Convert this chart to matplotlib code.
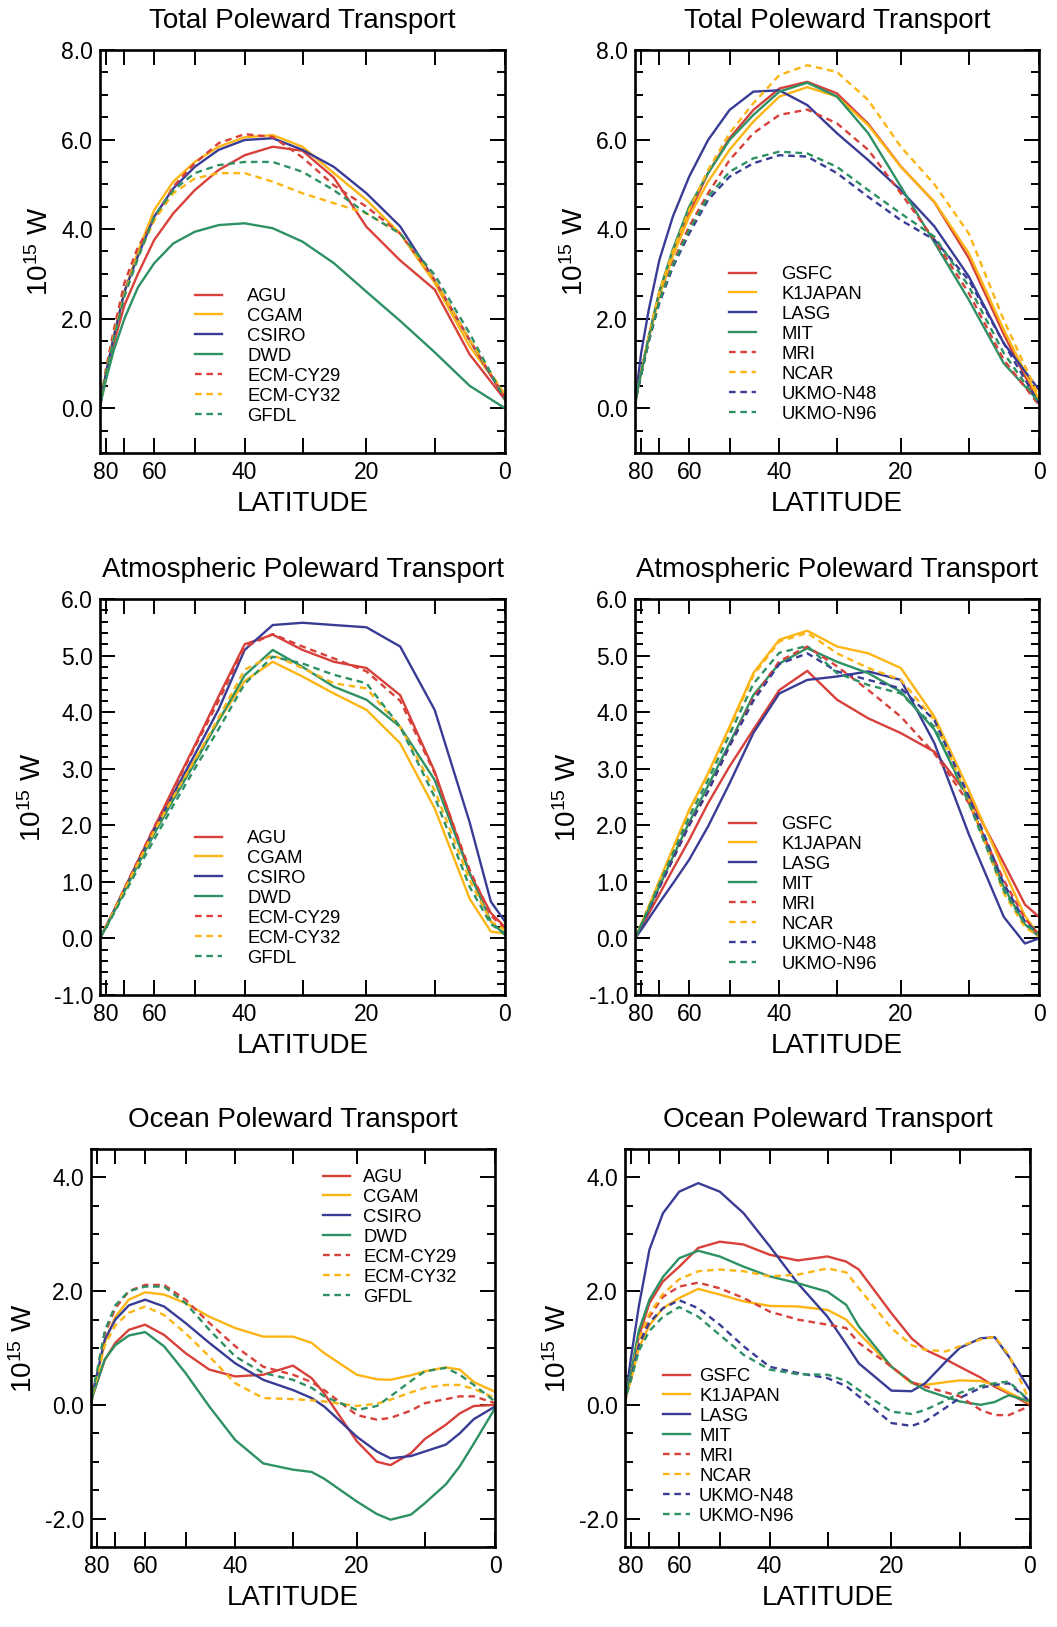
import numpy as np
import matplotlib
matplotlib.use('Agg')
import matplotlib.pyplot as plt
from matplotlib.ticker import MultipleLocator, FormatStrFormatter

plt.rcParams['font.family'] = ['Liberation Sans', 'DejaVu Sans']
plt.rcParams['mathtext.default'] = 'regular'
plt.rcParams['axes.unicode_minus'] = False

# latitude grids (degrees)
lat_tot = [90, 85, 80, 75, 70, 65, 60, 55, 50, 45, 40, 35, 30, 25, 20, 15, 10, 5, 0]
lat_atm = [90, 85, 80, 75, 70, 65, 60, 55, 50, 45, 40, 35, 30, 25, 20, 15, 10, 5, 2, 0]
lat_ocn = [90, 85, 80, 75, 70, 65, 60, 55, 50, 45, 40, 35, 30, 27, 25, 20, 17, 15, 12, 10, 7, 5, 3, 0]

names_left = ['AGU', 'CGAM', 'CSIRO', 'DWD', 'ECM-CY29', 'ECM-CY32', 'GFDL']
names_right = ['GSFC', 'K1JAPAN', 'LASG', 'MIT', 'MRI', 'NCAR', 'UKMO-N48', 'UKMO-N96']

# total transport, 10^15 W
total_left = {
    'AGU':      [0, 0.25, 0.75, 1.45, 2.3, 3.0, 3.76, 4.35, 4.87, 5.32, 5.65, 5.84, 5.75, 5.15, 4.05, 3.3, 2.65, 1.2, 0.19],
    'CGAM':     [0, 0.25, 0.8, 1.6, 2.6, 3.5, 4.43, 5.06, 5.5, 5.84, 6.05, 6.1, 5.84, 5.25, 4.65, 3.9, 2.8, 1.38, 0.3],
    'CSIRO':    [0, 0.25, 0.8, 1.6, 2.6, 3.4, 4.28, 4.91, 5.39, 5.77, 5.99, 6.03, 5.77, 5.39, 4.8, 4.06, 2.86, 1.52, 0.22],
    'DWD':      [0, 0.2, 0.65, 1.3, 2.0, 2.7, 3.24, 3.68, 3.94, 4.09, 4.13, 4.02, 3.72, 3.24, 2.6, 1.95, 1.25, 0.5, 0.0],
    'ECM-CY29': [0, 0.3, 0.9, 1.75, 2.8, 3.6, 4.2, 4.95, 5.47, 5.92, 6.12, 6.06, 5.6, 4.98, 4.5, 3.9, 2.86, 1.52, 0.22],
    'ECM-CY32': [0, 0.25, 0.8, 1.6, 2.55, 3.4, 4.2, 4.8, 5.13, 5.25, 5.25, 5.06, 4.8, 4.58, 4.35, 3.9, 2.86, 1.52, 0.3],
    'GFDL':     [0, 0.25, 0.8, 1.55, 2.5, 3.35, 4.28, 4.87, 5.25, 5.43, 5.5, 5.5, 5.28, 4.87, 4.35, 3.9, 2.98, 1.67, 0.19],
}
total_right = {
    'GSFC':     [0, 0.3, 0.8, 1.6, 2.6, 3.5, 4.35, 5.25, 6.03, 6.66, 7.14, 7.29, 7.03, 6.35, 5.4, 4.6, 3.35, 1.65, 0.1],
    'K1JAPAN':  [0, 0.3, 0.8, 1.55, 2.5, 3.4, 4.28, 5.06, 5.77, 6.4, 6.96, 7.17, 6.96, 6.32, 5.39, 4.61, 3.46, 1.75, 0.19],
    'LASG':     [0, 0.4, 1.23, 2.2, 3.31, 4.28, 5.17, 5.99, 6.66, 7.07, 7.1, 6.77, 6.14, 5.54, 4.87, 4.06, 2.94, 1.45, 0.41],
    'MIT':      [0, 0.3, 0.8, 1.6, 2.6, 3.55, 4.5, 5.25, 5.99, 6.55, 7.07, 7.27, 6.96, 6.14, 4.95, 3.7, 2.42, 1.0, 0.15],
    'MRI':      [0, 0.28, 0.75, 1.5, 2.4, 3.25, 4.06, 4.8, 5.54, 6.14, 6.55, 6.67, 6.36, 5.77, 4.8, 3.76, 2.57, 1.08, 0.07],
    'NCAR':     [0, 0.3, 0.8, 1.6, 2.6, 3.5, 4.43, 5.32, 6.14, 6.81, 7.44, 7.66, 7.51, 6.88, 5.84, 5.0, 3.9, 1.97, 0.26],
    'UKMO-N48': [0, 0.28, 0.75, 1.5, 2.35, 3.15, 3.9, 4.65, 5.17, 5.47, 5.65, 5.62, 5.25, 4.72, 4.2, 3.76, 2.86, 1.45, 0.11],
    'UKMO-N96': [0, 0.28, 0.75, 1.5, 2.4, 3.2, 3.98, 4.72, 5.28, 5.58, 5.73, 5.69, 5.39, 4.87, 4.35, 3.83, 2.72, 1.23, 0.11],
}

# atmospheric transport
atm_left = {
    'AGU':      [0, 0.06, 0.22, 0.49, 0.88, 1.37, 1.96, 2.65, 3.41, 4.28, 5.2, 5.37, 5.1, 4.89, 4.78, 4.3, 2.95, 1.15, 0.45, 0.2],
    'CGAM':     [0, 0.06, 0.21, 0.48, 0.86, 1.33, 1.9, 2.5, 3.15, 3.85, 4.55, 4.89, 4.63, 4.33, 4.04, 3.45, 2.3, 0.7, 0.12, 0.09],
    'CSIRO':    [0, 0.06, 0.21, 0.48, 0.86, 1.34, 1.92, 2.55, 3.25, 4.05, 5.1, 5.54, 5.58, 5.54, 5.5, 5.16, 4.04, 2.05, 0.65, 0.3],
    'DWD':      [0, 0.06, 0.2, 0.46, 0.83, 1.3, 1.85, 2.45, 3.1, 3.85, 4.65, 5.1, 4.8, 4.45, 4.22, 3.74, 2.8, 1.15, 0.3, 0.06],
    'ECM-CY29': [0, 0.06, 0.22, 0.49, 0.89, 1.38, 1.97, 2.62, 3.38, 4.2, 5.15, 5.38, 5.16, 4.95, 4.72, 4.2, 2.92, 1.21, 0.4, 0.18],
    'ECM-CY32': [0, 0.06, 0.21, 0.48, 0.86, 1.33, 1.9, 2.5, 3.15, 3.9, 4.75, 5.01, 4.78, 4.51, 4.42, 3.74, 2.62, 1.03, 0.3, 0.15],
    'GFDL':     [0, 0.05, 0.19, 0.44, 0.79, 1.23, 1.75, 2.35, 3.0, 3.7, 4.5, 4.98, 4.86, 4.66, 4.51, 3.74, 2.5, 0.91, 0.25, 0.09],
}
atm_right = {
    'GSFC':     [0, 0.05, 0.19, 0.44, 0.78, 1.22, 1.74, 2.39, 3.04, 3.69, 4.39, 4.73, 4.22, 3.89, 3.63, 3.3, 2.51, 1.33, 0.6, 0.38],
    'K1JAPAN':  [0, 0.07, 0.25, 0.57, 1.02, 1.59, 2.27, 2.92, 3.74, 4.69, 5.28, 5.44, 5.16, 5.04, 4.78, 3.92, 2.62, 1.21, 0.4, 0.06],
    'LASG':     [0, 0.04, 0.15, 0.35, 0.63, 0.97, 1.39, 1.98, 2.74, 3.63, 4.33, 4.57, 4.63, 4.72, 4.57, 3.45, 1.84, 0.38, -0.09, 0.0],
    'MIT':      [0, 0.06, 0.23, 0.51, 0.92, 1.44, 2.05, 2.7, 3.45, 4.3, 4.86, 5.13, 4.89, 4.69, 4.36, 3.69, 2.45, 0.91, 0.25, 0.03],
    'MRI':      [0, 0.06, 0.22, 0.5, 0.9, 1.4, 2.0, 2.6, 3.4, 4.25, 4.9, 5.16, 4.81, 4.39, 3.92, 3.27, 2.39, 1.03, 0.35, 0.06],
    'NCAR':     [0, 0.07, 0.25, 0.56, 1.01, 1.58, 2.25, 2.9, 3.7, 4.65, 5.25, 5.4, 5.04, 4.78, 4.57, 3.86, 2.45, 0.8, 0.2, 0.03],
    'UKMO-N48': [0, 0.06, 0.22, 0.5, 0.9, 1.4, 2.0, 2.6, 3.4, 4.2, 4.85, 5.04, 4.72, 4.57, 4.42, 3.86, 2.51, 0.97, 0.3, 0.09],
    'UKMO-N96': [0, 0.07, 0.24, 0.54, 0.97, 1.5, 2.15, 2.8, 3.6, 4.5, 5.05, 5.17, 4.69, 4.48, 4.33, 3.74, 2.39, 0.85, 0.25, 0.09],
}

# ocean transport
ocn_left = {
    'AGU':      [0, 0.15, 0.4, 0.79, 1.09, 1.32, 1.41, 1.23, 0.91, 0.62, 0.5, 0.53, 0.69, 0.47, 0.2, -0.64, -1.0, -1.06, -0.85, -0.6, -0.35, -0.15, -0.02, 0.0],
    'CGAM':     [0, 0.2, 0.5, 1.1, 1.55, 1.85, 1.98, 1.94, 1.79, 1.55, 1.35, 1.2, 1.2, 1.09, 0.91, 0.53, 0.45, 0.44, 0.52, 0.59, 0.66, 0.62, 0.4, 0.23],
    'CSIRO':    [0, 0.2, 0.55, 1.15, 1.5, 1.75, 1.85, 1.73, 1.44, 1.09, 0.73, 0.44, 0.26, 0.12, -0.03, -0.56, -0.82, -0.94, -0.9, -0.82, -0.7, -0.5, -0.25, -0.03],
    'DWD':      [0, 0.15, 0.4, 0.8, 1.05, 1.22, 1.28, 1.03, 0.56, -0.03, -0.62, -1.03, -1.14, -1.18, -1.3, -1.7, -1.92, -2.02, -1.93, -1.73, -1.4, -1.08, -0.68, -0.06],
    'ECM-CY29': [0, 0.2, 0.55, 1.25, 1.7, 2.0, 2.11, 2.11, 1.85, 1.44, 1.03, 0.67, 0.53, 0.4, 0.26, -0.18, -0.26, -0.23, -0.1, 0.03, 0.1, 0.15, 0.15, 0.03],
    'ECM-CY32': [0, 0.18, 0.5, 1.05, 1.4, 1.62, 1.73, 1.58, 1.26, 0.85, 0.38, 0.12, 0.1, 0.08, 0.06, -0.02, 0.02, 0.09, 0.22, 0.3, 0.35, 0.35, 0.28, 0.12],
    'GFDL':     [0, 0.22, 0.6, 1.3, 1.75, 2.0, 2.08, 2.08, 1.79, 1.32, 0.85, 0.56, 0.44, 0.3, 0.15, -0.09, -0.02, 0.15, 0.42, 0.59, 0.65, 0.53, 0.35, 0.06],
}
ocn_right = {
    'GSFC':     [0, 0.2, 0.5, 1.2, 1.79, 2.17, 2.43, 2.76, 2.87, 2.82, 2.64, 2.54, 2.61, 2.52, 2.38, 1.61, 1.17, 0.97, 0.8, 0.67, 0.48, 0.32, 0.2, 0.0],
    'K1JAPAN':  [0, 0.18, 0.45, 1.0, 1.4, 1.7, 1.88, 2.04, 1.94, 1.82, 1.74, 1.73, 1.67, 1.5, 1.26, 0.67, 0.38, 0.35, 0.4, 0.43, 0.42, 0.35, 0.22, 0.03],
    'LASG':     [0, 0.26, 0.85, 1.73, 2.73, 3.37, 3.75, 3.9, 3.75, 3.37, 2.79, 2.14, 1.55, 1.07, 0.73, 0.25, 0.24, 0.38, 0.76, 1.0, 1.17, 1.19, 0.85, 0.26],
    'MIT':      [0, 0.25, 0.6, 1.3, 1.85, 2.25, 2.58, 2.71, 2.61, 2.43, 2.26, 2.14, 1.99, 1.76, 1.38, 0.67, 0.4, 0.26, 0.14, 0.06, 0.0, 0.05, 0.17, 0.06],
    'MRI':      [0, 0.2, 0.5, 1.1, 1.55, 1.9, 2.08, 2.15, 2.05, 1.88, 1.64, 1.5, 1.41, 1.35, 1.09, 0.67, 0.4, 0.32, 0.22, 0.15, -0.09, -0.18, -0.18, -0.02],
    'NCAR':     [0, 0.2, 0.5, 1.15, 1.6, 1.95, 2.21, 2.35, 2.38, 2.35, 2.26, 2.29, 2.4, 2.33, 2.05, 1.35, 1.05, 0.97, 0.94, 1.03, 1.15, 1.2, 0.88, 0.05],
    'UKMO-N48': [0, 0.2, 0.5, 1.05, 1.45, 1.7, 1.84, 1.7, 1.41, 1.03, 0.67, 0.56, 0.47, 0.33, 0.15, -0.32, -0.37, -0.29, -0.05, 0.12, 0.3, 0.35, 0.38, 0.06],
    'UKMO-N96': [0, 0.18, 0.45, 0.95, 1.3, 1.55, 1.72, 1.55, 1.23, 0.88, 0.62, 0.54, 0.53, 0.42, 0.26, -0.12, -0.16, -0.09, 0.08, 0.21, 0.33, 0.38, 0.41, 0.06],
}

RED, ORANGE, BLUE, GREEN = '#d8403a', '#fdb515', '#393c95', '#2e9164'
DASH = (0, (2.8, 2.0))
styles_left = [(RED, '-'), (ORANGE, '-'), (BLUE, '-'), (GREEN, '-'),
               (RED, DASH), (ORANGE, DASH), (GREEN, DASH)]
styles_right = [(RED, '-'), (ORANGE, '-'), (BLUE, '-'), (GREEN, '-'),
                (RED, DASH), (ORANGE, DASH), (BLUE, DASH), (GREEN, DASH)]

W, H = 1057, 1627
fig = plt.figure(figsize=(W / 100, H / 100), dpi=100)


def fwd(lat):
    return np.sin(np.deg2rad(lat))


def inv(s):
    return np.rad2deg(np.arcsin(np.clip(s, -1, 1)))


def panel(box, title, lat, series, names, styles, ylim, ymaj, ymin, leg):
    l, t, r, b = box
    ax = fig.add_axes([l / W, 1 - b / H, (r - l) / W, (b - t) / H])
    ax.set_xscale('function', functions=(fwd, inv))
    for name, (c, ls) in zip(names, styles):
        ax.plot(lat, series[name], color=c, lw=1.7, linestyle=ls, label=name)
    ax.set_xlim(90, 0)
    ax.set_ylim(*ylim)
    ax.set_xticks([80, 70, 60, 50, 40, 30, 20, 10, 0])
    ax.set_xticklabels(['80', '', '60', '', '40', '', '20', '', '0'])
    ax.yaxis.set_major_locator(MultipleLocator(ymaj))
    ax.yaxis.set_minor_locator(MultipleLocator(ymin))
    ax.yaxis.set_major_formatter(FormatStrFormatter('%.1f'))
    ax.tick_params(which='both', direction='in', top=True, right=True, width=1.4, labelsize=16.5)
    ax.tick_params(axis='x', which='major', length=11, pad=6)
    ax.tick_params(axis='y', which='major', length=11, pad=5)
    ax.tick_params(axis='y', which='minor', length=6)
    for s in ax.spines.values():
        s.set_linewidth(1.9)
    ax.set_title(title, fontsize=20, pad=16)
    ax.set_xlabel('LATITUDE', fontsize=20, labelpad=5)
    ax.set_ylabel(r'$10^{15}$ W', fontsize=20, labelpad=5)
    lx, ly, hp = leg
    ax.legend(loc='upper left', bbox_to_anchor=(lx / W, 1 - ly / H), bbox_transform=fig.transFigure,
              frameon=False, fontsize=13.3, handlelength=1.45, handletextpad=hp,
              labelspacing=0.16, borderpad=0, borderaxespad=0)
    return ax


panel((100, 50, 505, 453), 'Total Poleward Transport', lat_tot, total_left, names_left, styles_left,
      (-1, 8), 2.0, 0.5, (195, 288, 1.39))
panel((635, 50, 1039, 453), 'Total Poleward Transport', lat_tot, total_right, names_right, styles_right,
      (-1, 8), 2.0, 0.5, (729, 266, 1.39))
panel((100, 599, 505, 995), 'Atmospheric Poleward Transport', lat_atm, atm_left, names_left, styles_left,
      (-1, 6), 1.0, 0.2, (195, 830, 1.39))
panel((635, 599, 1039, 995), 'Atmospheric Poleward Transport', lat_atm, atm_right, names_right, styles_right,
      (-1, 6), 1.0, 0.2, (729, 816, 1.39))
panel((91, 1149, 495, 1547), 'Ocean Poleward Transport', lat_ocn, ocn_left, names_left, styles_left,
      (-2.5, 4.5), 2.0, 0.5, (323, 1169, 0.72))
panel((625, 1149, 1030, 1547), 'Ocean Poleward Transport', lat_ocn, ocn_right, names_right, styles_right,
      (-2.5, 4.5), 2.0, 0.5, (663, 1368, 0.5))

fig.savefig('out.png', dpi=100)
